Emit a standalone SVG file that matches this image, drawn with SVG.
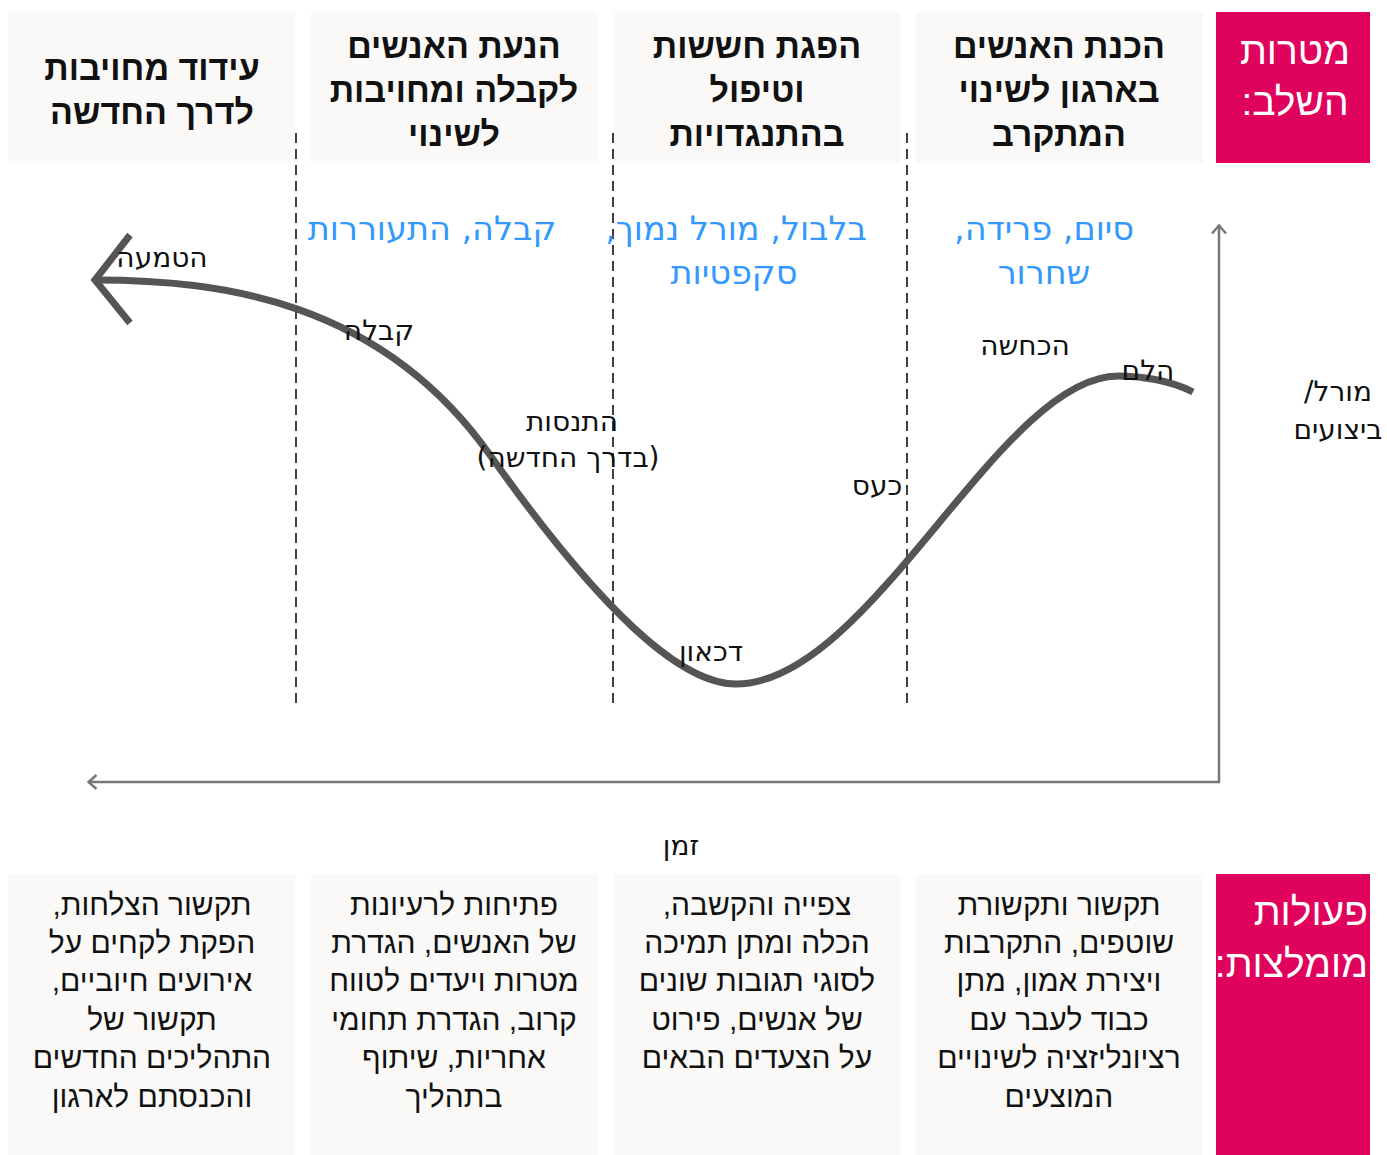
<svg xmlns="http://www.w3.org/2000/svg" width="1387" height="1155" viewBox="0 0 1387 1155">
<defs>
<style>
.box{fill:#faf9f7}
.pink{fill:#e0035e}
.hd{font-family:"Liberation Sans",Arial,sans-serif;font-weight:bold;font-size:34px;fill:#111;text-anchor:middle}
.pk{font-family:"Liberation Sans",Arial,sans-serif;font-size:39px;fill:#fff}
.bl{font-family:"DejaVu Sans",sans-serif;font-size:33.5px;fill:#3399ff;text-anchor:middle}
.lb{font-family:"DejaVu Sans",sans-serif;font-size:28px;fill:#111;text-anchor:middle}
.bt{font-family:"Liberation Sans",Arial,sans-serif;font-size:30px;fill:#111;text-anchor:middle}
.dash{stroke:#111;stroke-width:1.6;stroke-dasharray:10 6;fill:none}
.axis{stroke:#777;stroke-width:2.5;fill:none}
.curve{stroke:#555;stroke-width:7;fill:none}
</style>
<marker id="ah" viewBox="0 0 12 16" refX="10.5" refY="8" markerWidth="12" markerHeight="16" markerUnits="userSpaceOnUse" orient="auto-start-reverse">
<path d="M2,1 L10,8 L2,15" fill="none" stroke="#777" stroke-width="2.5"/>
</marker>
</defs>
<rect width="1387" height="1155" fill="#fff"/>

<g id="goal-header">
<rect class="pink" x="1216" y="12" width="154" height="151"/>
<text class="pk" direction="rtl" text-anchor="middle" x="1295" y="64">מטרות</text>
<text class="pk" direction="rtl" text-anchor="middle" x="1295" y="115">השלב:</text>
</g>
<g id="goal-1">
<rect class="box" x="916" y="12" width="287" height="151"/>
<text class="hd" direction="rtl" x="1059" y="58">הכנת האנשים</text>
<text class="hd" direction="rtl" x="1059" y="102">בארגון לשינוי</text>
<text class="hd" direction="rtl" x="1059" y="146">המתקרב</text>
</g>
<g id="goal-2">
<rect class="box" x="614" y="12" width="286" height="151"/>
<text class="hd" direction="rtl" x="757" y="58">הפגת חששות</text>
<text class="hd" direction="rtl" x="757" y="102">וטיפול</text>
<text class="hd" direction="rtl" x="757" y="146">בהתנגדויות</text>
</g>
<g id="goal-3">
<rect class="box" x="311" y="12" width="287" height="151"/>
<text class="hd" direction="rtl" x="454" y="58">הנעת האנשים</text>
<text class="hd" direction="rtl" x="454" y="102">לקבלה ומחויבות</text>
<text class="hd" direction="rtl" x="454" y="146">לשינוי</text>
</g>
<g id="goal-4">
<rect class="box" x="8" y="12" width="287" height="151"/>
<text class="hd" direction="rtl" x="152" y="80">עידוד מחויבות</text>
<text class="hd" direction="rtl" x="152" y="124">לדרך החדשה</text>
</g>

<g id="dividers">
<line class="dash" x1="296" y1="133" x2="296" y2="707"/>
<line class="dash" x1="613" y1="133" x2="613" y2="707"/>
<line class="dash" x1="907" y1="133" x2="907" y2="707"/>
</g>

<g id="emotions">
<text class="bl" direction="rtl" x="1044" y="240">סיום, פרידה,</text>
<text class="bl" direction="rtl" x="1044" y="284">שחרור</text>
<text class="bl" direction="rtl" x="736" y="240">בלבול, מורל נמוך,</text>
<text class="bl" direction="rtl" x="734" y="284">סקפטיות</text>
<text class="bl" direction="rtl" x="432" y="240">קבלה, התעוררות</text>
</g>

<g id="connectors">
<polyline class="axis" points="1219,225 1219,782 88,782" marker-start="url(#ah)" marker-end="url(#ah)"/>
<path class="curve" d="M1193,392 C1170,380 1140,376 1118,376 C1000,376 870,684 736,684 C680,684 600,610 490,455 C380,300 220,280 95,280"/>
<path class="curve" d="M130,235 L95,280 L130,323"/>
</g>

<g id="curve-labels">
<text class="lb" direction="rtl" x="162" y="267">הטמעה</text>
<text class="lb" direction="rtl" x="379" y="340">קבלה</text>
<text class="lb" direction="rtl" x="572" y="431">התנסות</text>
<text class="lb" direction="rtl" x="568" y="467">(בדרך החדשה)</text>
<text class="lb" direction="rtl" x="711" y="661">דכאון</text>
<text class="lb" direction="rtl" x="877" y="495">כעס</text>
<text class="lb" direction="rtl" x="1025" y="355">הכחשה</text>
<text class="lb" direction="rtl" x="1148" y="380">הלם</text>
<text class="lb" direction="rtl" x="1338" y="401">מורל/</text>
<text class="lb" direction="rtl" x="1338" y="439">ביצועים</text>
<text class="lb" direction="rtl" x="681" y="855">זמן</text>
</g>

<g id="action-header">
<rect class="pink" x="1216" y="874" width="154" height="281"/>
<text class="pk" direction="rtl" text-anchor="start" x="1368" y="925">פעולות</text>
<text class="pk" direction="rtl" text-anchor="start" x="1368" y="977">מומלצות:</text>
</g>
<g id="action-1">
<rect class="box" x="916" y="874" width="287" height="281"/>
<text class="bt" direction="rtl" x="1059" y="915">תקשור ותקשורת</text>
<text class="bt" direction="rtl" x="1059" y="953">שוטפים, התקרבות</text>
<text class="bt" direction="rtl" x="1059" y="991">ויצירת אמון, מתן</text>
<text class="bt" direction="rtl" x="1059" y="1030">כבוד לעבר עם</text>
<text class="bt" direction="rtl" x="1059" y="1068">רציונליזציה לשינויים</text>
<text class="bt" direction="rtl" x="1059" y="1107">המוצעים</text>
</g>
<g id="action-2">
<rect class="box" x="614" y="874" width="286" height="281"/>
<text class="bt" direction="rtl" x="757" y="915">צפייה והקשבה,</text>
<text class="bt" direction="rtl" x="757" y="953">הכלה ומתן תמיכה</text>
<text class="bt" direction="rtl" x="757" y="991">לסוגי תגובות שונים</text>
<text class="bt" direction="rtl" x="757" y="1030">של אנשים, פירוט</text>
<text class="bt" direction="rtl" x="757" y="1068">על הצעדים הבאים</text>
</g>
<g id="action-3">
<rect class="box" x="311" y="874" width="287" height="281"/>
<text class="bt" direction="rtl" x="454" y="915">פתיחות לרעיונות</text>
<text class="bt" direction="rtl" x="454" y="953">של האנשים, הגדרת</text>
<text class="bt" direction="rtl" x="454" y="991">מטרות ויעדים לטווח</text>
<text class="bt" direction="rtl" x="454" y="1030">קרוב, הגדרת תחומי</text>
<text class="bt" direction="rtl" x="454" y="1068">אחריות, שיתוף</text>
<text class="bt" direction="rtl" x="454" y="1107">בתהליך</text>
</g>
<g id="action-4">
<rect class="box" x="8" y="874" width="287" height="281"/>
<text class="bt" direction="rtl" x="152" y="915">תקשור הצלחות,</text>
<text class="bt" direction="rtl" x="152" y="953">הפקת לקחים על</text>
<text class="bt" direction="rtl" x="152" y="991">אירועים חיוביים,</text>
<text class="bt" direction="rtl" x="152" y="1030">תקשור של</text>
<text class="bt" direction="rtl" x="152" y="1068">התהליכים החדשים</text>
<text class="bt" direction="rtl" x="152" y="1107">והכנסתם לארגון</text>
</g>
</svg>
